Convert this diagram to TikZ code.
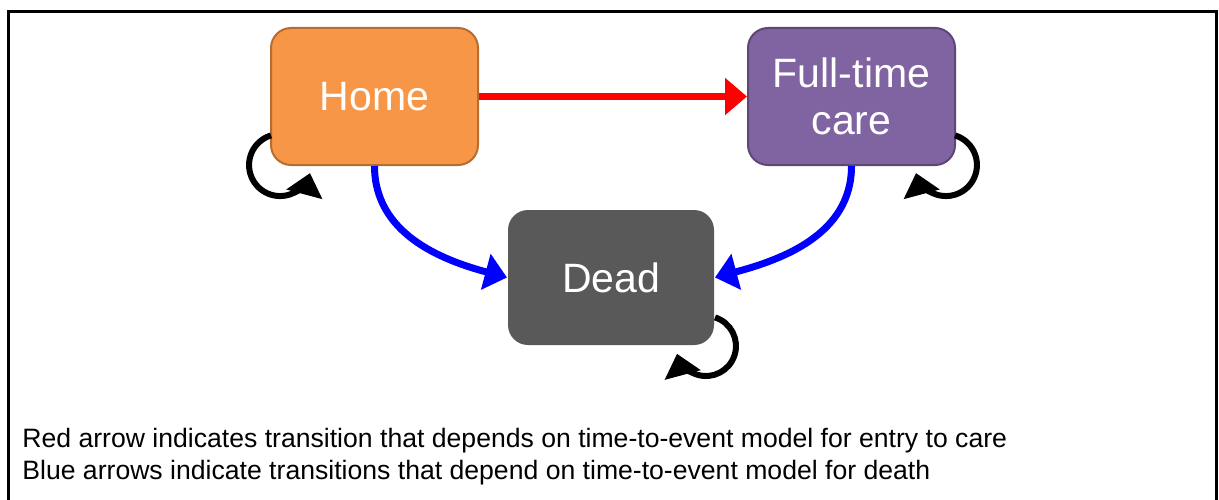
\documentclass[tikz,border=0pt]{standalone}
\usepackage{fontspec}
\setmainfont{Liberation Sans}
\usetikzlibrary{arrows.meta,calc}
\definecolor{homefill}{HTML}{F79646}
\definecolor{homeline}{HTML}{B66D31}
\definecolor{carefill}{HTML}{8064A2}
\definecolor{careline}{HTML}{5C4776}
\definecolor{deadfill}{HTML}{595959}
\begin{document}
\begin{tikzpicture}[x=0.5pt,y=0.5pt,>={Triangle[length=11pt,width=18pt]},
  state/.style={rounded corners=10pt,minimum width=103.5pt,minimum height=68.5pt,
    text=white,font=\fontsize{20.5}{23.5}\selectfont,align=center,line width=1pt},
  note/.style={anchor=base west,inner sep=0pt,font=\fontsize{13.3}{16}\selectfont},
  loopline/.style={line width=3pt,->}]
\useasboundingbox (0,0) rectangle (1219,499);
\draw[line width=1.5pt](8,-5)--(8,487)--(1216,487)--(1216,-5);
% states
\node[state,fill=homefill,draw=homeline] (home) at (374.5,402.5) {Home};
\node[state,fill=carefill,draw=careline] (care) at (851.5,402.5) {Full-time\\care};
\node[state,fill=deadfill,minimum width=103pt,minimum height=67.5pt] (dead) at (611,221.5) {Dead};
% transitions
\draw[->,red,line width=3.5pt](home)--(care);
\draw[->,blue,line width=3.5pt](home.south) to[out=-90,in=165] (dead.west);
\draw[->,blue,line width=3.5pt](care.south) to[out=-90,in=15] (dead.east);
% staying put
\draw[loopline]($(home.south west)+(1,30.6)$) arc[start angle=107,end angle=345,radius=31];
\draw[loopline]($(care.south east)+(-1,30.6)$) arc[start angle=73,end angle=-165,radius=31];
\draw[loopline]($(dead.south east)+(0,28.6)$) arc[start angle=72.5,end angle=-165,radius=30];
% legend
\node[note] (rednote) at (22,52) {Red arrow indicates transition that depends on time-to-event model for entry to care};
\node[note] (bluenote) at (22,20) {Blue arrows indicate transitions that depend on time-to-event model for death};
\end{tikzpicture}
\end{document}
